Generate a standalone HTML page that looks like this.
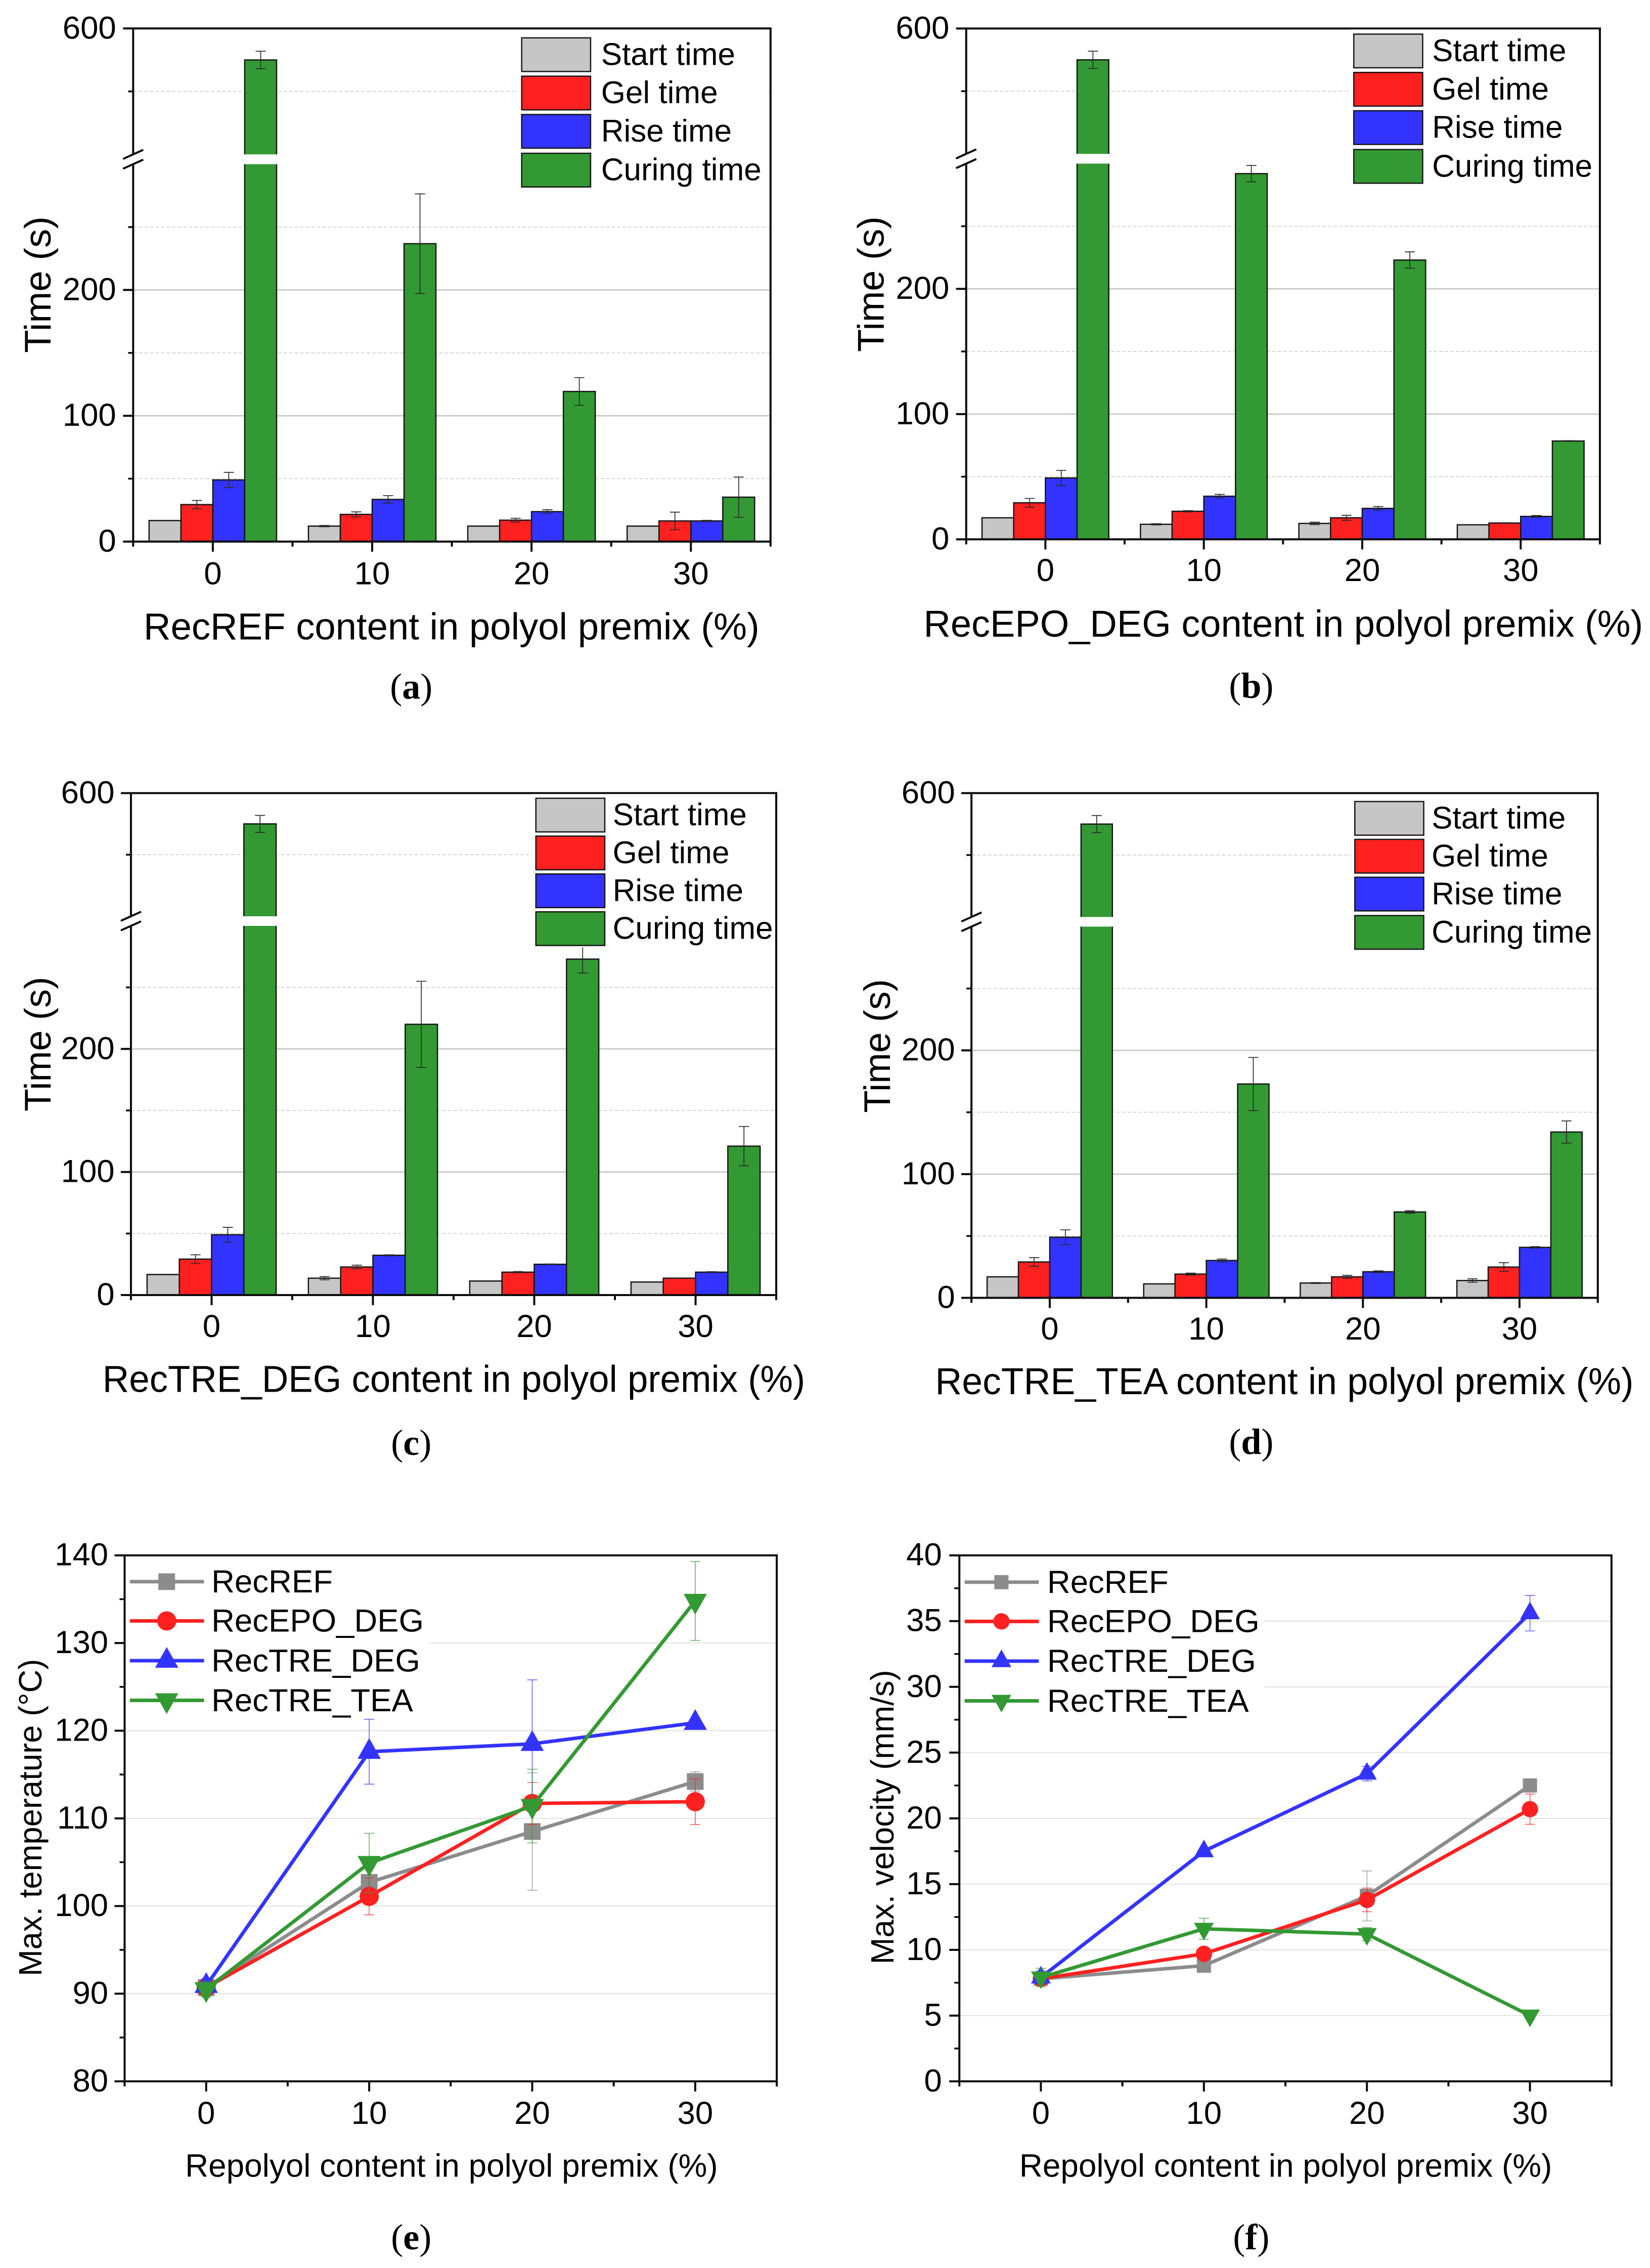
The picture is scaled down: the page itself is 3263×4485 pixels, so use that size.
<!DOCTYPE html>
<html lang="en">
<head>
<meta charset="utf-8">
<title>Foam reactivity charts</title>
<style>
html,body{margin:0;padding:0;background:#fff}
svg{display:block;font-family:"Liberation Sans",Arial,sans-serif}
</style>
</head>
<body>
<svg id="figure" width="3263" height="4485" viewBox="0 0 3263 4485"></svg>
<script>
/* ---------- data ---------- */
const contentLevels = [0, 10, 20, 30];
const barSeriesNames = ['Start time', 'Gel time', 'Rise time', 'Curing time'];
const lineSeriesNames = ['RecREF', 'RecEPO_DEG', 'RecTRE_DEG', 'RecTRE_TEA'];
const timeMajorTicks = [0, 100, 200, 600];
const timeMinorTicks = [50, 150, 250, 500];
const tempMajorTicks = [80, 90, 100, 110, 120, 130, 140];
const tempMinorTicks = [85, 95, 105, 115, 125, 135];
const velMajorTicks = [0, 5, 10, 15, 20, 25, 30, 35, 40];
const velMinorTicks = [2.5, 7.5, 12.5, 17.5, 22.5, 27.5, 32.5, 37.5];

const aStart = [16.7, 12.3, 12.3, 12.3];
const aStartErr = [0, 0.5, 0, 0];
const aGel = [29.4, 21.6, 17, 16.4];
const aGelErr = [3.3, 2, 1.5, 7];
const aRise = [49, 33.5, 23.8, 16.4];
const aRiseErr = [6, 3, 1.5, 0.5];
const aCure = [550, 236.8, 119.3, 35.3];
const aCureErr = [13.8, 39.6, 11, 16];

const bStart = [17.2, 12, 12.7, 11.6];
const bStartErr = [0, 0.5, 1, 0];
const bGel = [29.2, 22.4, 17.2, 13];
const bGelErr = [3.5, 0.5, 2, 0.3];
const bRise = [49, 34.4, 24.7, 18.3];
const bRiseErr = [6, 1.5, 1.5, 0.7];
const bCure = [550, 292, 223, 78.5];
const bCureErr = [13.8, 6.5, 6.5, 0.3];

const cStart = [16.7, 13.7, 11.4, 10.6];
const cStartErr = [0, 1.3, 0, 0];
const cGel = [29.2, 22.8, 18.6, 13.7];
const cGelErr = [3.5, 1.5, 0.5, 0.2];
const cRise = [49, 32.3, 25, 18.6];
const cRiseErr = [6, 0.4, 0.3, 0.4];
const cCure = [550, 220, 273, 121];
const cCureErr = [13.8, 35, 11.4, 16];

const dStart = [17, 11.3, 12, 14];
const dStartErr = [0, 0, 0.4, 1.4];
const dGel = [29, 19.2, 17, 24.9];
const dGelErr = [3.5, 0.8, 1.2, 3.5];
const dRise = [49, 30.2, 21.1, 40.8];
const dRiseErr = [6, 1.2, 0.7, 0.6];
const dCure = [550, 172.8, 69.4, 134];
const dCureErr = [13.8, 21.5, 1, 9];

const eRef = [90.7, 102.7, 108.5, 114.2];
const eRefErr = [1, 0.6, 6.7, 1.1];
const eEpo = [90.7, 101.1, 111.7, 111.9];
const eEpoErr = [0.5, 2.1, 2.4, 2.6];
const eDeg = [90.9, 117.6, 118.5, 120.9];
const eDegErr = [0.8, 3.7, 7.3, 0.2];
const eTea = [90.5, 104.9, 111.4, 134.8];
const eTeaErr = [0.9, 3.4, 4.2, 4.5];

const fRef = [7.8, 8.8, 14.1, 22.5];
const fRefErr = [0.3, 0.2, 1.9, 0.2];
const fEpo = [7.8, 9.7, 13.8, 20.7];
const fEpoErr = [0.3, 0.3, 0.9, 1.15];
const fDeg = [7.9, 17.5, 23.4, 35.6];
const fDegErr = [0.5, 0.2, 0.55, 1.35];
const fTea = [7.9, 11.6, 11.2, 5];
const fTeaErr = [0.7, 0.8, 0.5, 0.2];

/* ---------- helpers ---------- */
const root = document.getElementById('figure');
const SVGNS = root.namespaceURI;
const FX = 1.04;
const BLACK = '#0a0a0a';
const barFills = ['#c6c6c6', '#ff2020', '#3333ff', '#339933'];
const lineColors = ['#8c8c8c', '#ff2020', '#3333ff', '#339933'];
const markerKinds = ['square', 'circle', 'up', 'down'];

function mk(parent, tag, attrs, text) {
  const el = document.createElementNS(SVGNS, tag);
  for (const k in attrs) el.setAttribute(k, attrs[k]);
  if (text !== undefined) el.textContent = text;
  parent.appendChild(el);
  return el;
}
function slug(s) {
  return s.toLowerCase().replace(/[^a-z0-9]+/g, '-');
}
function marker(parent, kind, cx, cy, s, color) {
  let el;
  if (kind === 'square') {
    el = mk(parent, 'rect', {x: cx - 16.5 * s, y: cy - 16.5 * s, width: 33 * s, height: 33 * s, fill: color});
  } else if (kind === 'circle') {
    el = mk(parent, 'circle', {cx: cx, cy: cy, r: 19 * s, fill: color});
  } else if (kind === 'up') {
    el = mk(parent, 'polygon', {points: [cx, cy - 27 * s, cx + 23 * s, cy + 14 * s, cx - 23 * s, cy + 14 * s].join(' '), fill: color});
  } else {
    el = mk(parent, 'polygon', {points: [cx, cy + 27 * s, cx + 23 * s, cy - 14 * s, cx - 23 * s, cy - 14 * s].join(' '), fill: color});
  }
  return el;
}
function label(parent, x, y, str, size, anchor, extra) {
  const attrs = {x: x, y: y, 'font-size': size, 'text-anchor': anchor || 'middle', fill: '#000'};
  if (extra) for (const k in extra) attrs[k] = extra[k];
  return mk(parent, 'text', attrs, str);
}
function caption(g, cx, base, letter) {
  const t = mk(g, 'text', {x: cx, y: base, 'font-size': 72, 'text-anchor': 'middle', 'font-family': '"Liberation Serif",serif', fill: '#000'});
  
  
  const s1 = mk(t, 'tspan', {}, '(');
  const s2 = mk(t, 'tspan', {'font-weight': 'bold'}, letter);
  const s3 = mk(t, 'tspan', {}, ')');
  return [s1, s2, s3];
}
function frame(g, L, R, T, B) {
  const top = mk(g, 'line', {x1: L, x2: R + 2, y1: T, y2: T, stroke: BLACK, 'stroke-width': 4});
  
  
  const right = mk(g, 'line', {x1: R, x2: R, y1: T - 2, y2: B + 2, stroke: BLACK, 'stroke-width': 4});
  
  
  const left = mk(g, 'line', {x1: L, x2: L, y1: T - 2, y2: B + 2, stroke: BLACK, 'stroke-width': 4});
  
  
  const bottom = mk(g, 'line', {x1: L - 2, x2: R + 2, y1: B, y2: B, stroke: BLACK, 'stroke-width': 4});
  
  
}
function xAxis(g, xs, labelBase, minorVals) {
  contentLevels.forEach(function (v) {
    const tick = mk(g, 'line', {x1: xs(v), x2: xs(v), y1: xs.B, y2: xs.B + 20, stroke: BLACK, 'stroke-width': 4});
    
    
    const t = label(g, xs(v), labelBase, String(v), 63.5);
    
    
  });
  minorVals.forEach(function (v) {
    const tick = mk(g, 'line', {x1: xs(v), x2: xs(v), y1: xs.B, y2: xs.B + 10, stroke: BLACK, 'stroke-width': 4});
    
    
  });
}

/* ---------- grouped bars with broken axis ---------- */
function drawBars(c) {
  const fy = 0.9242;
  const px = X => c.ox + X * FX;
  const py = Y => c.oy + Y * fy;
  const L = px(c.L), R = px(c.R), T = py(c.T), B = py(c.B);
  const lowTop = B - (B - T) * 0.7355;
  const upBot = T + (B - T) * 0.2454;
  const xs = v => L + (v + 5) / 40 * (R - L);
  xs.B = B;
  const ys = v => v <= 300 ? B - v / 300 * (B - lowTop) : upBot - (v - 400) / 200 * (upBot - T);

  const g = mk(root, 'g', {});
  
  

  timeMinorTicks.forEach(function (v) {
    const gl = mk(g, 'line', {x1: L, x2: R, y1: ys(v), y2: ys(v), stroke: '#cfcfcf', 'stroke-width': 1.6, 'stroke-dasharray': '7 4'});
    
    
    const tk = mk(g, 'line', {x1: L - 10, x2: L, y1: ys(v), y2: ys(v), stroke: BLACK, 'stroke-width': 3.5});
    
    
  });
  timeMajorTicks.forEach(function (v) {
    if (v !== 0 && v !== 600) {
      const gl = mk(g, 'line', {x1: L, x2: R, y1: ys(v), y2: ys(v), stroke: '#c4c4c4', 'stroke-width': 2.5});
      
      
    }
    const tk = mk(g, 'line', {x1: L - 20, x2: L, y1: ys(v), y2: ys(v), stroke: BLACK, 'stroke-width': 4});
    
    
    const t = label(g, px(c.tickRight) + 3, ys(v) + 20, String(v), 63.5, 'end');
    
    
  });

  c.series.forEach(function (vals, i) {
    vals.forEach(function (v, j) {
      const xc = contentLevels[j] + (i - 1.5) * 2;
      const x0 = xs(xc - 1), x1 = xs(xc + 1);
      const bar = mk(g, 'rect', {x: x0, y: ys(v), width: x1 - x0, height: B - ys(v), fill: barFills[i], stroke: '#151515', 'stroke-width': 2.5});
      
      
      if (v > 300) {
        const gap = mk(g, 'rect', {x: x0 - 2, y: upBot, width: x1 - x0 + 4, height: lowTop - upBot, fill: '#fff'});
        
        
      }
      const e = c.errors[i][j];
      if (e > 0) {
        const xm = xs(xc);
        const stem = mk(g, 'line', {x1: xm, x2: xm, y1: ys(v + e), y2: ys(v - e), stroke: '#2a2a2a', 'stroke-width': 1.7});
        
        
        [v + e, v - e].forEach(function (w) {
          const cap = mk(g, 'line', {x1: xm - 10, x2: xm + 10, y1: ys(w), y2: ys(w), stroke: '#2a2a2a', 'stroke-width': 1.7});
          
          
        });
      }
    });
  });

  frame(g, L, R, T, B);

  const br = mk(g, 'rect', {x: L - 4, y: upBot, width: 8, height: lowTop - upBot, fill: '#fff'});
  
  
  [upBot, lowTop].forEach(function (yb) {
    const s = mk(g, 'line', {x1: L - 20, x2: L + 20, y1: yb + 9, y2: yb - 9, stroke: BLACK, 'stroke-width': 4});
    
    
  });

  xAxis(g, xs, py(c.xLabelBase), [-5, 5, 15, 25, 35]);

  const yt = mk(g, 'text', {transform: 'translate(' + px(c.yTitleBase) + ' ' + py(c.yTitleMid) + ') rotate(-90)', 'font-size': 73, 'text-anchor': 'middle', textLength: c.yTitleLen * fy, lengthAdjust: 'spacingAndGlyphs', fill: '#000'}, 'Time (s)');
  
  

  const xt = mk(g, 'text', {x: px(c.titleL), y: py(c.titleBase), 'font-size': 74, textLength: (c.titleR - c.titleL) * FX, lengthAdjust: 'spacingAndGlyphs', fill: '#000'}, c.title);
  
  

  const lbTop = c.legBgTop !== undefined ? py(c.legBgTop) : T + 3;
  const lb = mk(g, 'rect', {x: px(c.legX - 7), y: lbTop, width: px(c.legBgR) - px(c.legX - 7), height: py(c.legTops[3] + 76) - lbTop, fill: '#fff'});
  
  
  barSeriesNames.forEach(function (name, i) {
    const sw = mk(g, 'rect', {x: px(c.legX), y: py(c.legTops[i]), width: 131 * FX, height: 72 * fy, fill: barFills[i], stroke: '#151515', 'stroke-width': 2.5});
    
    
    const t = label(g, px(c.legX + c.legTextDx), py(c.legTops[i] + 58), name, 62, 'start');
    
    
  });

  caption(g, px(c.capX), py(c.capBase), c.letter);
}

/* ---------- line charts ---------- */
function drawLines(c) {
  const fy = 0.9465;
  const px = X => c.ox + X * FX;
  const py = Y => c.oy + Y * fy;
  const L = px(c.L), R = px(c.R), T = py(c.T), B = py(c.B);
  const xs = v => L + (v + 5) / 40 * (R - L);
  xs.B = B;
  const ys = v => B - (v - c.yMin) / (c.yMax - c.yMin) * (B - T);

  const g = mk(root, 'g', {});
  
  

  c.majorTicks.forEach(function (v, i) {
    if (i > 0 && i < c.majorTicks.length - 1) {
      const gl = mk(g, 'line', {x1: L, x2: R, y1: ys(v), y2: ys(v), stroke: '#e2e2e2', 'stroke-width': 2});
      
      
    }
    const tk = mk(g, 'line', {x1: L - 20, x2: L, y1: ys(v), y2: ys(v), stroke: BLACK, 'stroke-width': 4});
    
    
    const t = label(g, px(c.tickRight) + 3, ys(v) + 20, String(v), 63.5, 'end');
    
    
  });
  c.minorTicks.forEach(function (v) {
    const tk = mk(g, 'line', {x1: L - 10, x2: L, y1: ys(v), y2: ys(v), stroke: BLACK, 'stroke-width': 3.5});
    
    
  });

  const lb = mk(g, 'rect', {x: L + 3, y: T + 3, width: px(c.legBgR) - L - 3, height: py(c.legBgB) - T - 3, fill: '#fff'});
  
  

  frame(g, L, R, T, B);
  xAxis(g, xs, py(c.xLabelBase), [-5, 5, 15, 25, 35]);

  c.series.forEach(function (vals, i) {
    const sk = slug(lineSeriesNames[i]);
    vals.forEach(function (v, j) {
      const e = c.errors[i][j];
      const xm = xs(contentLevels[j]);
      const stem = mk(g, 'line', {x1: xm, x2: xm, y1: ys(v + e), y2: ys(v - e), stroke: lineColors[i], 'stroke-width': 1.6, 'stroke-opacity': 0.75});
      
      
      [v + e, v - e].forEach(function (w) {
        const cap = mk(g, 'line', {x1: xm - 10, x2: xm + 10, y1: ys(w), y2: ys(w), stroke: lineColors[i], 'stroke-width': 1.6, 'stroke-opacity': 0.75});
        
        
      });
    });
    const pts = vals.map((v, j) => xs(contentLevels[j]) + ',' + ys(v)).join(' ');
    const pl = mk(g, 'polyline', {points: pts, fill: 'none', stroke: lineColors[i], 'stroke-width': 7, 'stroke-linejoin': 'round'});
    
    
    vals.forEach(function (v, j) {
      const m = marker(g, markerKinds[i], xs(contentLevels[j]), ys(v), c.markerScale, lineColors[i]);
      
      
    });
  });

  lineSeriesNames.forEach(function (name, i) {
    const ly = py(c.legYs[i]);
    const ll = mk(g, 'line', {x1: px(c.legX), x2: px(c.legX + 141), y1: ly, y2: ly, stroke: lineColors[i], 'stroke-width': 7});
    
    
    const m = marker(g, markerKinds[i], px(c.legX + 70), ly, c.markerScale, lineColors[i]);
    
    
    const t = label(g, px(c.legX + c.legTextDx), ly + 22 * fy + 0.5, name, 63.5, 'start');
    
    
  });

  const yt = mk(g, 'text', {transform: 'translate(' + px(c.yTitleBase) + ' ' + py(c.yTitleMid) + ') rotate(-90)', 'font-size': 64, 'text-anchor': 'middle', textLength: c.yTitleLen * fy, lengthAdjust: 'spacingAndGlyphs', fill: '#000'}, c.yTitle);
  
  

  const xt = mk(g, 'text', {x: px(c.titleL), y: py(c.titleBase), 'font-size': 64, textLength: (c.titleR - c.titleL) * FX, lengthAdjust: 'spacingAndGlyphs', fill: '#000'}, 'Repolyol content in polyol premix (%)');
  
  

  caption(g, px(c.capX), py(c.capBase), c.letter);
}

/* ---------- panels ---------- */
drawBars({letter: 'a', ox: 0, oy: 0, L: 253.2, R: 1465.2, T: 60.9, B: 1158.8,
  series: [aStart, aGel, aRise, aCure], errors: [aStartErr, aGelErr, aRiseErr, aCureErr],
  tickRight: 218, xLabelBase: 1250, yTitleBase: 96, yTitleMid: 609, yTitleLen: 292,
  title: 'RecREF content in polyol premix (%)', titleL: 273, titleR: 1444, titleBase: 1368,
  legX: 992, legTextDx: 151, legBgR: 1460, legTops: [81, 163, 245, 328], capX: 782, capBase: 1495});
drawBars({letter: 'b', ox: 1632, oy: 0, L: 268, R: 1473, T: 61, B: 1154,
  series: [bStart, bGel, bRise, bCure], errors: [bStartErr, bGelErr, bRiseErr, bCureErr],
  tickRight: 233, xLabelBase: 1243, yTitleBase: 111, yTitleMid: 608, yTitleLen: 290,
  title: 'RecEPO_DEG content in polyol premix (%)', titleL: 187, titleR: 1555, titleBase: 1362,
  legX: 1005, legTextDx: 149, legBgR: 1470, legBgTop: 63, legTops: [73, 155, 237, 320], capX: 810, capBase: 1493});
drawBars({letter: 'c', ox: 0, oy: 1500, L: 249, R: 1476, T: 74, B: 1148,
  series: [cStart, cGel, cRise, cCure], errors: [cStartErr, cGelErr, cRiseErr, cCureErr],
  tickRight: 215, xLabelBase: 1238, yTitleBase: 96, yTitleMid: 611, yTitleLen: 288,
  title: 'RecTRE_DEG content in polyol premix (%)', titleL: 195, titleR: 1531, titleBase: 1355,
  legX: 1019, legTextDx: 146, legBgR: 1472, legBgTop: 76, legTops: [85, 166, 247, 328], capX: 782, capBase: 1490});
drawBars({letter: 'd', ox: 1632, oy: 1500, L: 278, R: 1469, T: 74, B: 1154,
  series: [dStart, dGel, dRise, dCure], errors: [dStartErr, dGelErr, dRiseErr, dCureErr],
  tickRight: 244, xLabelBase: 1243, yTitleBase: 123, yTitleMid: 615, yTitleLen: 286,
  title: 'RecTRE_TEA content in polyol premix (%)', titleL: 209, titleR: 1537, titleBase: 1360,
  legX: 1007, legTextDx: 146, legBgR: 1465, legTops: [92, 173, 254, 336], capX: 810, capBase: 1488});
drawLines({letter: 'e', ox: 0, oy: 3000, L: 237, R: 1477, T: 80, B: 1179, yMin: 80, yMax: 140,
  majorTicks: tempMajorTicks, minorTicks: tempMinorTicks,
  series: [eRef, eEpo, eDeg, eTea], errors: [eRefErr, eEpoErr, eDegErr, eTeaErr], markerScale: 1,
  tickRight: 203, xLabelBase: 1268, yTitle: 'Max. temperature (°C)', yTitleBase: 79, yTitleMid: 628, yTitleLen: 663,
  titleL: 352, titleR: 1365, titleBase: 1378, legX: 247, legTextDx: 155, legYs: [135, 217, 300, 383], legBgR: 815, legBgB: 425,
  capX: 782, capBase: 1530});
drawLines({letter: 'f', ox: 1632, oy: 3000, L: 255, R: 1495, T: 80, B: 1179, yMin: 0, yMax: 40,
  majorTicks: velMajorTicks, minorTicks: velMinorTicks,
  series: [fRef, fEpo, fDeg, fTea], errors: [fRefErr, fEpoErr, fDegErr, fTeaErr], markerScale: 0.85,
  tickRight: 219, xLabelBase: 1268, yTitle: 'Max. velocity (mm/s)', yTitleBase: 130, yTitleMid: 627, yTitleLen: 615,
  titleL: 369, titleR: 1382, titleBase: 1378, legX: 265, legTextDx: 157, legYs: [136, 218, 301, 384], legBgR: 835, legBgB: 425,
  capX: 810, capBase: 1530});
</script>
</body>
</html>
